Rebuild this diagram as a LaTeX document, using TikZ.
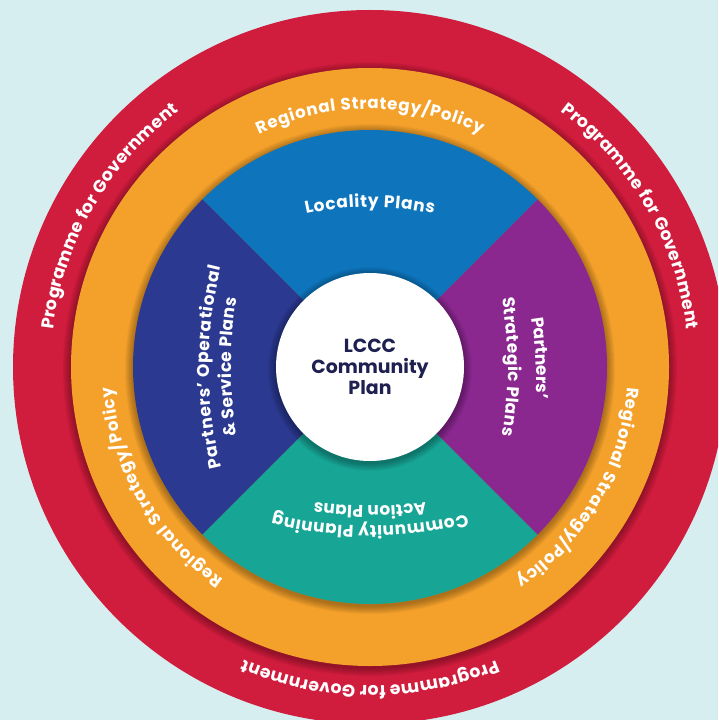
\documentclass[tikz,border=0pt]{standalone}
\usepackage{fontspec}
\setmainfont{Poppins}
\usetikzlibrary{decorations.text}

\definecolor{bgTeal}{RGB}{214,238,240}
\definecolor{govRed}{RGB}{208,28,61}
\definecolor{policyOrange}{RGB}{244,161,43}
\definecolor{localBlue}{RGB}{14,117,188}
\definecolor{partnerNavy}{RGB}{43,57,144}
\definecolor{partnerPurple}{RGB}{138,40,144}
\definecolor{actionTeal}{RGB}{23,165,150}
\definecolor{planInk}{RGB}{30,33,80}

\tikzset{every picture/.style={line width=0.75pt}}
\tikzset{
  red text/.style={decorate, decoration={text along path, text align=fit to path,
      text={|\fontsize{13}{15}\bfseries\color{white}|#1}}},
  orange text/.style={decorate, decoration={text along path, text align=fit to path,
      text={|\fontsize{12.5}{14}\bfseries\color{white}|#1}}},
  sector text/.style={decorate, decoration={text along path, text align=fit to path,
      text={|\fontsize{12.75}{14}\bfseries\color{white}|#1}}},
  short text/.style={decorate, decoration={text along path, text align=center,
      text={|\fontsize{12.75}{14}\bfseries\color{white}|#1}}},
  plan text/.style={font=\fontsize{14.2}{15.75}\bfseries, text=planInk, align=center},
  soft shadow/.style={fill=black, opacity=0.04}
}

% clockwise text: axis angle, apex radius, arc radius, half angle, style, text
\newcommand{\arcText}[6]{%
  \pgfmathsetmacro\arcStart{-(#1)-(#4)}%
  \pgfmathsetmacro\arcEnd{-(#1)+(#4)}%
  \pgfmathsetmacro\arcAxis{-(#1)}%
  \pgfmathsetmacro\arcShift{(#2)-(#3)}%
  \path[#5={#6}] ([shift={(\arcAxis:\arcShift)}] \arcStart:#3) arc[start angle=\arcStart, end angle=\arcEnd, radius=#3];%
}

\begin{document}
\begin{tikzpicture}[x=0.75pt,y=0.75pt,yscale=-1,xscale=1]
\clip (0,0) rectangle (718,720);
\fill[bgTeal] (0,0) rectangle (718,720);

\begin{scope}[shift={(370,367)}]
%Shape: Circle
\fill[govRed] (0,0) circle[radius=357];
%Shape: Circle shadow
\foreach \s in {1,...,8} \fill[soft shadow] (0,2) circle[radius=299+\s];
%Shape: Circle
\fill[policyOrange] (0,0) circle[radius=299];
%Shape: Circle shadow
\foreach \s in {1,...,8} \fill[soft shadow] (0,2) circle[radius=237+\s];

%Shape: Sector
\fill[localBlue] (0,0) -- (-45:237) arc[start angle=-45, end angle=-135, radius=237] -- cycle;
%Shape: Sector
\fill[partnerNavy] (0,0) -- (-135:237) arc[start angle=-135, end angle=-225, radius=237] -- cycle;
%Shape: Sector
\fill[actionTeal] (0,0) -- (135:237) arc[start angle=135, end angle=45, radius=237] -- cycle;
%Shape: Sector
\fill[partnerPurple] (0,0) -- (45:237) arc[start angle=45, end angle=-45, radius=237] -- cycle;

%Shape: Circle shadow
\foreach \s in {1,...,8} \fill[soft shadow] (0,2) circle[radius=94+\s];
%Shape: Circle
\fill[white] (0,0) circle[radius=94];

% Text Node
\node (plan) [plan text] at (0,0) {LCCC\\Community\\Plan};

% Ring texts
\arcText{150}{319}{319}{23.3}{red text}{Programme for Government}
\arcText{30}{319}{319}{23.3}{red text}{Programme for Government}
\arcText{-90}{319}{319}{23.3}{red text}{Programme for Government}
\arcText{90}{258}{258}{25.5}{orange text}{Regional Strategy/Policy}
\arcText{-30}{258}{258}{25.5}{orange text}{Regional Strategy/Policy}
\arcText{210}{258}{258}{25.5}{orange text}{Regional Strategy/Policy}

% Sector texts
\arcText{90}{160}{300}{12.3}{sector text}{Locality Plans}
\arcText{180}{161}{420}{13.8}{sector text}{Partners’ Operational}
\arcText{180}{139}{400}{9.9}{sector text}{{\&} Service Plans}
\arcText{3}{166}{400}{8}{short text}{Partners’}
\arcText{0}{138}{400}{9.9}{sector text}{Strategic Plans}
\arcText{-90}{159}{400}{14}{sector text}{Community Planning}
\arcText{-90}{139}{400}{8}{sector text}{Action Plans}
\end{scope}

\end{tikzpicture}
\end{document}
